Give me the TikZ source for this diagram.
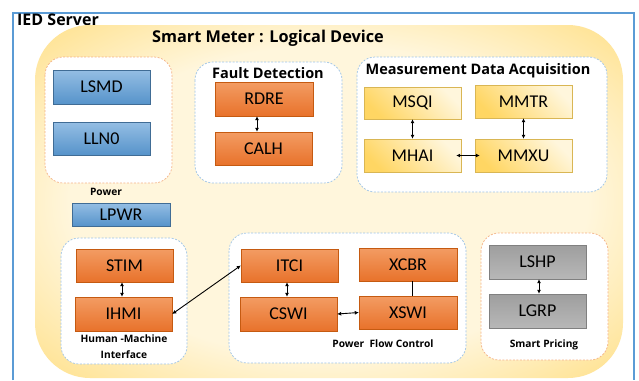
\documentclass[tikz,border=0pt]{standalone}
\usepackage{fontspec}
\setmainfont{Carlito}
\newfontfamily\titlefont{Open Sans}
\usetikzlibrary{arrows.meta,shadows}
\definecolor{ylight}{HTML}{FFF6DC}
\definecolor{ygold}{HTML}{FFD663}
\definecolor{framebl}{HTML}{5B9BD5}
\definecolor{dashbl}{HTML}{9DC3E6}
\definecolor{dashor}{HTML}{F4B183}
\definecolor{ortop}{HTML}{F39C63}
\definecolor{orbot}{HTML}{E8722B}
\definecolor{oredge}{HTML}{C55A11}
\pgfdeclareradialshading{meterfill}{\pgfpoint{0bp}{0bp}}{color(0bp)=(ylight); color(22bp)=(ylight); color(42bp)=(ygold); color(50bp)=(ygold)}
\tikzset{
  lnbox/.style={minimum width=97pt, minimum height=33pt, inner sep=0pt, font=\fontsize{18}{20}\selectfont,
    drop shadow={shadow xshift=1.2pt, shadow yshift=-1.2pt, opacity=0.45}},
  orangebox/.style={lnbox, top color=ortop, bottom color=orbot, draw=oredge},
  bluebox/.style={lnbox, top color=framebl!65!white, bottom color=framebl!95!black, draw=framebl!70!black},
  yellowbox/.style={lnbox, top color=ygold, bottom color=ylight, shading angle=135, draw=ygold!85!black},
  graybox/.style={lnbox, top color=black!38, bottom color=black!28, draw=black!50},
  grpbl/.style={draw=dashbl, fill=white, dash pattern=on 2pt off 1.5pt, line width=0.7pt, rounded corners=18pt},
  grpor/.style={draw=dashor, fill=white, dash pattern=on 2pt off 1.5pt, line width=0.7pt, rounded corners=18pt},
  grptitle/.style={font=\titlefont\bfseries\fontsize{14.5}{16}\selectfont, inner sep=0pt},
  smalllbl/.style={font=\titlefont\bfseries\fontsize{10.2}{12}\selectfont, inner sep=0pt},
  conn/.style={<->, >={Latex[length=4pt,width=4pt]}, line width=0.9pt, black}
}
\begin{document}
\begin{tikzpicture}[x=1pt,y=-1pt]
\useasboundingbox (0,0) rectangle (639,380);
\fill[white] (0,0) rectangle (639,380);
% outer frame
\draw[framebl, line width=1.2pt] (13,380) -- (13,13) -- (634,13) -- (634,380);
\node[anchor=west, font=\titlefont\bfseries\fontsize{16}{18}\selectfont, inner sep=0pt] (ied) at (17,20) {IED Server};
% logical device
\shade[shading=meterfill, rounded corners=55pt] (35,25) rectangle (623,378);
\node[font=\titlefont\bfseries\fontsize{16.3}{18}\selectfont, inner sep=0pt] (ld) at (268,38) {Smart Meter : Logical Device};
% groups
\path[grpor] (45,57) rectangle (172,183);
\path[grpbl] (195,62) rectangle (342,183);
\path[grpbl] (357,57) rectangle (607,192);
\path[grpbl] (61,238) rectangle (187,364);
\path[grpbl] (229,233) rectangle (466,363);
\path[grpor] (481,233) rectangle (608,360);
% group labels
\node[smalllbl] (lpow) at (106,192) {Power};
\node[grptitle] (lfd) at (268,73) {Fault Detection};
\node[grptitle] (lmda) at (478,71) {Measurement Data Acquisition};
\node[smalllbl] (lhmi1) at (124,339) {Human -Machine};
\node[smalllbl] (lhmi2) at (124,355) {Interface};
\node[smalllbl] (lpfc) at (383,344) {Power\ \ Flow Control};
\node[smalllbl] (lsp) at (544,345) {Smart Pricing};
% logical nodes
\node[bluebox, minimum height=34pt] (lsmd) at (101.5,87) {LSMD};
\node[bluebox] (lln0) at (101.5,138.5) {LLN0};
\node[bluebox, minimum width=98pt, minimum height=23pt] (lpwr) at (121,214.5) {LPWR};
\node[orangebox, minimum width=98pt, minimum height=34pt] (rdre) at (264,99) {RDRE};
\node[orangebox] (calh) at (263.5,148.5) {CALH};
\node[yellowbox, minimum height=32pt] (msqi) at (412.5,103) {MSQI};
\node[yellowbox] (mmtr) at (523.5,101.5) {MMTR};
\node[yellowbox] (mhai) at (412.5,155.5) {MHAI};
\node[yellowbox] (mmxu) at (523.5,155.5) {MMXU};
\node[orangebox] (stim) at (124.5,265.5) {STIM};
\node[orangebox, minimum height=34pt] (ihmi) at (123.5,314) {IHMI};
\node[orangebox] (itci) at (289.5,265.5) {ITCI};
\node[orangebox, minimum height=34pt] (cswi) at (288.5,314) {CSWI};
\node[orangebox, minimum width=98pt] (xcbr) at (408,264.5) {XCBR};
\node[orangebox, minimum width=98pt] (xswi) at (408,312.5) {XSWI};
\node[graybox, minimum height=34pt] (lshp) at (537.5,262) {LSHP};
\node[graybox, minimum height=34pt] (lgrp) at (537.5,311) {LGRP};
% connectors
\draw[conn] (rdre.south -| 257,0) -- (calh.north -| 257,0);
\draw[conn] (msqi.south) -- (mhai.north);
\draw[conn] (mmtr.south) -- (mmxu.north);
\draw[conn, shorten <=-5pt, shorten >=-5pt] (mhai.east) -- (mmxu.west);
\draw[conn] (stim.south -| 122,0) -- (ihmi.north -| 122,0);
\draw[conn] (itci.south -| 287,0) -- (cswi.north -| 287,0);
\draw[line width=0.9pt] (xcbr.south -| 412,0) -- (xswi.north -| 412,0);
\draw[conn] (cswi.east) -- (xswi.west);
\draw[conn] (ihmi.east) -- (itci.west);
\draw[conn] (lshp.south -| 539,0) -- (lgrp.north -| 539,0);
\end{tikzpicture}
\end{document}
